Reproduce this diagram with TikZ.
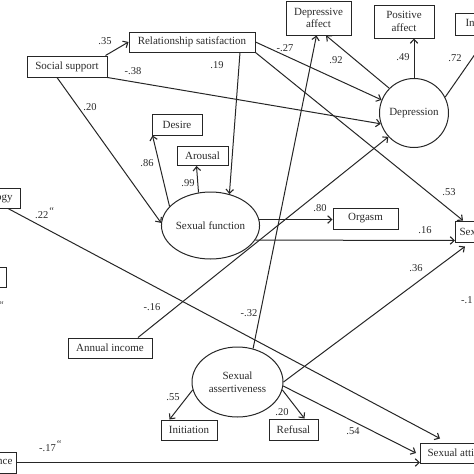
\documentclass[tikz,border=0pt]{standalone}
\usepackage{fontspec}
\setmainfont{Liberation Serif}
\usetikzlibrary{arrows.meta,shapes.geometric}
\definecolor{ink}{HTML}{262626}
\definecolor{txt}{HTML}{2A2A2A}
\newcommand{\fixmark}{\raisebox{3.5pt}{\textit{``}}}
\begin{document}
\begin{tikzpicture}[x=1pt,y=-1pt,
  box/.style={draw=ink, line width=1pt, rectangle, inner sep=0pt, font=\fontsize{11}{12.5}\selectfont, text=txt, align=center},
  lat/.style={draw=ink, line width=1pt, ellipse, inner sep=0pt, font=\fontsize{11}{12.5}\selectfont, text=txt, align=center},
  arr/.style={draw=ink, line width=1pt, -{Straight Barb[length=4pt,width=7.5pt,line width=1.1pt]}},
  coef/.style={font=\fontsize{10.5}{12}\selectfont, text=txt, inner sep=0pt}
]
\useasboundingbox (0,0) rectangle (474,474);
% observed boxes
\node[box, minimum width=126, minimum height=20] (rel) at (192,42) {Relationship satisfaction};
\node[box, minimum width=80, minimum height=21] (soc) at (67,66.5) {Social support};
\node[box, minimum width=65, minimum height=34] (depaff) at (318.5,18) {Depressive\\affect};
\node[box, minimum width=60, minimum height=33] (posaff) at (404,21.5) {Positive\\affect};
\node[box, anchor=west, minimum height=22, inner xsep=10pt] (inbox) at (455,24) {Interpersonal};
\node[box, minimum width=50, minimum height=21] (desire) at (177,124.5) {Desire};
\node[box, minimum width=51, minimum height=19] (arousal) at (202.5,156) {Arousal};
\node[box, minimum width=65, minimum height=21] (orgasm) at (365.5,218.5) {Orgasm};
\node[box, anchor=west, minimum height=21, inner xsep=4pt] (se) at (455,231.5) {Sexual satisfaction};
\node[box, minimum width=84, minimum height=20] (income) at (110,348) {Annual income};
\node[box, minimum width=56, minimum height=20] (initiation) at (189,430) {Initiation};
\node[box, minimum width=49, minimum height=21] (refusal) at (293.5,429.5) {Refusal};
\node[box, anchor=west, minimum height=20, inner xsep=7pt] (satt) at (420,453) {Sexual attitudes};
\node[box, anchor=east, minimum height=20, inner xsep=8pt] (gy) at (21,198) {Ideology};
\node[box, anchor=east, minimum width=50, minimum height=20] (leftbox) at (7,277) {};
\node[box, anchor=east, minimum height=21, inner xsep=4pt] (ce) at (17,462.5) {Experience};
% latent variables
\node[lat, circle, minimum size=69] (dep) at (414,113) {Depression};
\node[lat, minimum width=91, minimum height=67] (sf) at (210.5,225.5) {Sexual function};
\node[lat, minimum width=91, minimum height=70] (sa) at (237.5,382) {Sexual\\assertiveness};
% paths
\draw[arr] ([xshift=-2pt]soc.north east) -- (rel.west);
\draw[arr] (soc.south east) -- (dep.198);
\draw[arr] (rel.east) -- (dep.158);
\draw[arr] (rel.south east) -- ([xshift=8pt]se.north west);
\draw[arr] ([xshift=48pt]rel.south) -- (sf.59);
\draw[arr] ([xshift=-10pt]soc.south) -- (sf.177);
\draw[arr] (sf.155) -- ([xshift=1pt]desire.south west);
\draw[arr] (sf.110) -- ([xshift=-6pt]arousal.south);
\draw[arr] (sf.7) -- (sf.7 -| orgasm.west);
\draw[arr] (sf.-18) -- ([yshift=2pt]se.south west);
\draw[arr] (sa.east) -- ([xshift=10pt,yshift=-4pt]se.south west);
\draw[arr] (sa.-5) -- ([xshift=-4pt]satt.west);
\draw[arr] ([xshift=-13pt]gy.south east) -- ([xshift=20pt,yshift=4pt]satt.north west);
\draw[arr] (ce.east) -- (ce.east -| satt.west);
\draw[arr] ([xshift=28pt]income.north) -- (dep.223);
\draw[arr] (sa.65) -- ([xshift=-2pt]depaff.south);
\draw[arr] (dep.135) -- ([xshift=7.5pt]depaff.south);
\draw[arr] (dep.north) -- (dep.north |- posaff.south);
\draw[arr] (dep.27) -- ([xshift=33pt]inbox.south west);
\draw[arr] (sa.190) -- ([xshift=9pt]initiation.north west);
\draw[arr] (sa.-10) -- ([xshift=11pt]refusal.north);
% coefficients
\node[coef] (c1) at (105,41) {.35};
\node[coef] (c2) at (133,71) {-.38};
\node[coef] (c3) at (90,107) {.20};
\node[coef] (c4) at (217,65) {.19};
\node[coef] (c5) at (285,48) {-.27};
\node[coef] (c6) at (336,60) {.92};
\node[coef] (c7) at (403,57) {.49};
\node[coef] (c8) at (455,58) {.72};
\node[coef] (c9) at (147,163) {.86};
\node[coef] (c10) at (188,183) {.99};
\node[coef] (c11) at (320,208) {.80};
\node[coef] (c12) at (425,230) {.16};
\node[coef] (c13) at (449,192) {.53};
\node[coef] (c14) at (416,268) {.36};
\node[coef, anchor=west] (c15) at (461,300) {-.1};
\node[coef, anchor=west] (c16) at (35,213) {.22\fixmark};
\node[coef] (c17) at (152,307) {-.16};
\node[coef] (c18) at (249,313) {-.32};
\node[coef] (c19) at (173,397) {.55};
\node[coef] (c20) at (282,412) {.20};
\node[coef] (c21) at (353,431) {.54};
\node[coef, anchor=west] (c22) at (39,446) {-.17\fixmark};
\node[coef, anchor=west] (c23) at (-2,307) {\fixmark};
\end{tikzpicture}
\end{document}
